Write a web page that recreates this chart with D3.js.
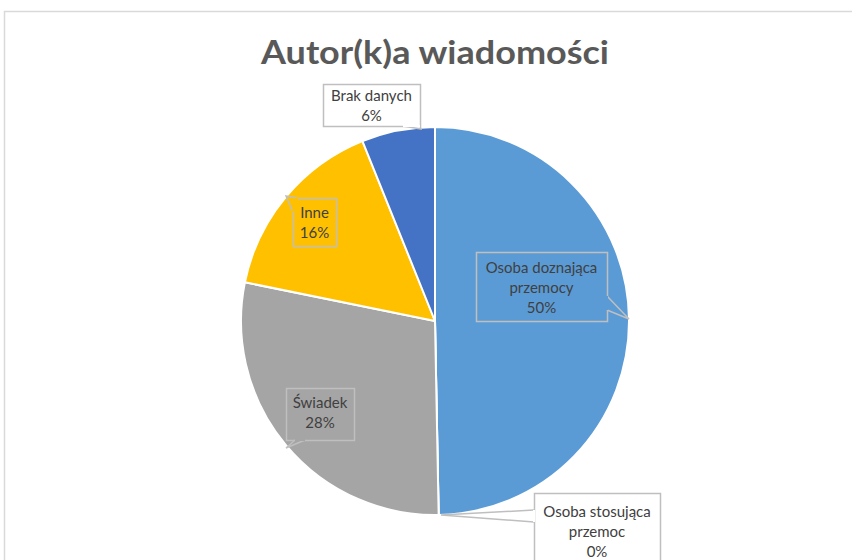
<!DOCTYPE html>
<html>
<head>
<meta charset="utf-8">
<script src="https://cdn.jsdelivr.net/npm/d3@7"></script>
<style>
  body { margin: 0; background: #fff; }
  svg { display: block; font-family: Lato, "Open Sans", sans-serif; }
</style>
</head>
<body>
<svg id="chart" width="852" height="560"></svg>
<script>
// data
var categories = ["Osoba doznająca przemocy", "Osoba stosująca przemoc", "Świadek", "Inne", "Brak danych"];
var values = [49.7, 0, 28.5, 15.7, 6.1];
var pctLabels = ["50%", "0%", "28%", "16%", "6%"];
var colors = ["#5B9BD5", "#ED7D31", "#A5A5A5", "#FFC000", "#4472C4"];

// label callouts: text lines, box, pointer base + tip, fill behind pointer (layout only)
var callouts = [
  {lines: ["Osoba doznająca", "przemocy"], box: [476, 252, 131, 69], cy: 268,
   ptr: [[607, 296], [629, 319], [607, 310]], bg: "#5B9BD5"},
  {lines: ["Osoba stosująca", "przemoc"], box: [534, 493, 126, 80], cy: 512,
   ptr: [[534, 510], [441, 515], [534, 522]], bg: "#fff"},
  {lines: ["Świadek"], box: [286, 388, 68, 52], cy: 403,
   ptr: [[305, 440], [286, 448], [295, 440]], bg: "#A5A5A5"},
  {lines: ["Inne"], box: [293, 198, 43, 48], cy: 213,
   ptr: [[293, 212], [286, 196], [297, 198]], bg: "#FFC000"},
  {lines: ["Brak danych"], box: [323, 84, 97, 42], cy: 96,
   ptr: [[403, 126], [421, 129], [420, 126]], bg: "#fff"}
];

var svg = d3.select("#chart");

// chart area border
svg.append("path")
  .attr("d", "M4.5,560 V11.5 H852")
  .attr("fill", "none")
  .attr("stroke", "#D9D9D9")
  .attr("stroke-width", 1.5);

var title = svg.append("text")
  .attr("x", 435)
  .attr("y", 64)
  .attr("text-anchor", "middle")
  .attr("font-size", 33)
  .attr("font-weight", "bold")
  .attr("fill", "#595959")
  .text("Autor(k)a wiadomości");
title.attr("textLength", 348).attr("lengthAdjust", "spacingAndGlyphs");

var cx = 435, cy = 321, r = 194;

var pie = d3.pie().sort(null).value(function(d) { return d; });
var arc = d3.arc().innerRadius(0).outerRadius(r);

var g = svg.append("g").attr("transform", "translate(" + cx + "," + cy + ")");
g.selectAll("path")
  .data(pie(values))
  .enter()
  .append("path")
    .attr("d", arc)
    .attr("fill", function(d, i) { return colors[i]; })
    .attr("stroke", "#fff")
    .attr("stroke-width", 2)
    .attr("stroke-linejoin", "round");

// callouts
callouts.forEach(function(c, i) {
  var b = c.box;
  var lab = svg.append("g");
  lab.append("rect")
    .attr("x", b[0] + 0.5).attr("y", b[1] + 0.5)
    .attr("width", b[2]).attr("height", b[3])
    .attr("fill", "none")
    .attr("stroke", "#BFBFBF")
    .attr("stroke-width", 1.5);
  // pointer wedge, then cover the box edge between the base points
  lab.append("path")
    .attr("d", "M" + c.ptr[0] + "L" + c.ptr[1] + "L" + c.ptr[2])
    .attr("fill", c.bg)
    .attr("stroke", "#BFBFBF")
    .attr("stroke-width", 1.5);
  lab.append("line")
    .attr("x1", c.ptr[0][0]).attr("y1", c.ptr[0][1])
    .attr("x2", c.ptr[2][0]).attr("y2", c.ptr[2][1])
    .attr("stroke", c.bg)
    .attr("stroke-width", 2);
  var lines = c.lines.concat([pctLabels[i]]);
  var tx = b[0] + b[2] / 2;
  lab.selectAll("text")
    .data(lines)
    .enter()
    .append("text")
      .attr("x", tx)
      .attr("y", function(d, k) { return c.cy + k * 20; })
      .attr("dy", "0.35em")
      .attr("text-anchor", "middle")
      .attr("font-size", 15)
      .attr("fill", "#404040")
      .text(function(d) { return d; });
});
</script>
</body>
</html>
